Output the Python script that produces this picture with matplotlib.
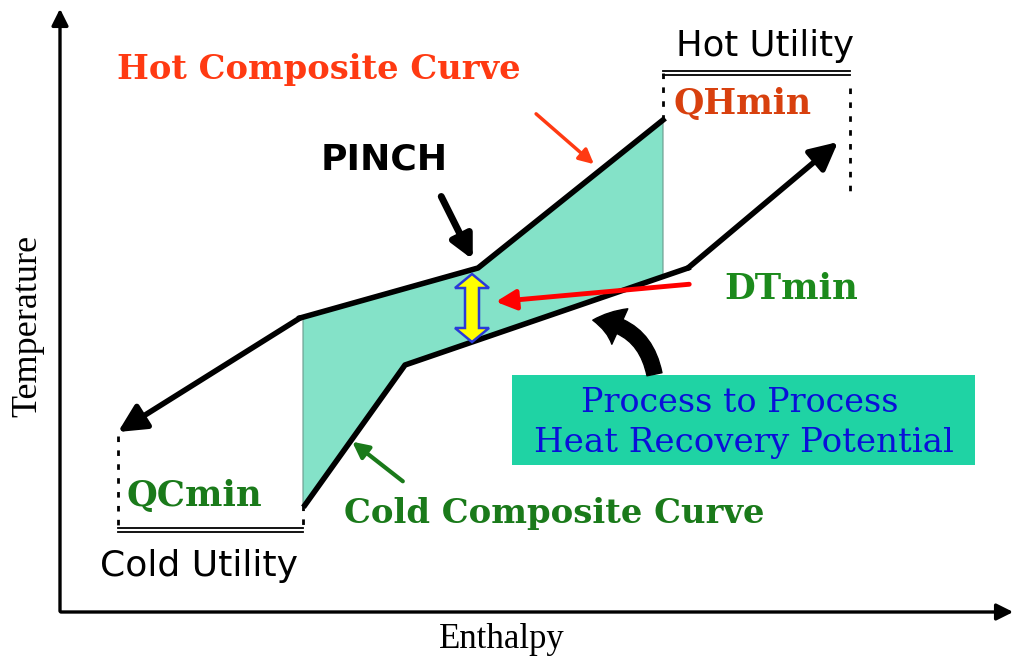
import matplotlib.pyplot as plt
from matplotlib.patches import Polygon, FancyArrowPatch

# coordinates are in picture units: enthalpy to the right, temperature down-counted from top
# hot composite curve (from top right, going down to the left)
hot_H = [663, 478, 300, 118]
hot_T = [120, 268, 318, 432]

# cold composite curve (from bottom left, going up to the right)
cold_H = [305, 405, 688, 838]
cold_T = [505, 365, 268, 142]

# utilities
cold_util_H = [118, 303]
cold_util_T = 530
hot_util_H = [663, 850]
hot_util_T = 73

# colours
FILL = '#84e2c8'
BOX = '#1fd3a4'
HOT_RED = '#ff3a12'
QH_RED = '#d8400e'
GREEN = '#1a7a1a'
DT_GREEN = '#1c8a1c'
BLUE = '#0a10d8'

SERIF = 'Liberation Serif'
BSERIF = 'DejaVu Serif'
SANS = 'DejaVu Sans'

fig = plt.figure(figsize=(10.18, 6.59), dpi=100)
ax = fig.add_axes([0, 0, 1, 1])
ax.set_xlim(0, 1018)
ax.set_ylim(659, 0)
ax.axis('off')

# axes with arrows
ax.annotate('', xy=(1016, 612), xytext=(58, 612),
            arrowprops=dict(arrowstyle='-|>', lw=2.4, color='black', mutation_scale=25))
ax.annotate('', xy=(60, 6), xytext=(60, 614),
            arrowprops=dict(arrowstyle='-|>', lw=2.4, color='black', mutation_scale=25))
ax.text(28, 326, 'Temperature', rotation=90, ha='center', va='center',
        family=SERIF, fontsize=26)
ax.text(502, 640, 'Enthalpy', ha='center', va='center', family=SERIF, fontsize=25)


def interp(xs, ys, x):
    # linear interpolation along a polyline, clamped at the ends
    pts = sorted(zip(xs, ys))
    if x <= pts[0][0]:
        return pts[0][1]
    for (x0, y0), (x1, y1) in zip(pts[:-1], pts[1:]):
        if x0 <= x <= x1:
            return y0 + (y1 - y0) * (x - x0) / (x1 - x0)
    return pts[-1][1]


# shaded heat recovery region between curves
x_lo, x_hi = 303, 663
xs = sorted(set([x_lo, x_hi] + [h for h in hot_H + cold_H if x_lo < h < x_hi]))
top = [(x, interp(hot_H, hot_T, x)) for x in xs]
bot = [(x, interp(cold_H, cold_T, x)) for x in reversed(xs)]
ax.add_patch(Polygon(top + bot, closed=True, fc=FILL, ec='#6a9a8c', lw=0.8, zorder=1))

# composite curves
ax.plot(hot_H[:-1], hot_T[:-1], color='black', lw=4, solid_joinstyle='round', zorder=3)
ax.annotate('', xy=(hot_H[-1], hot_T[-1]), xytext=(hot_H[-2], hot_T[-2]),
            arrowprops=dict(arrowstyle='-|>', lw=4, color='black', mutation_scale=42,
                            shrinkA=0, shrinkB=0), zorder=3)
ax.plot(cold_H[:-1], cold_T[:-1], color='black', lw=4, solid_joinstyle='round', zorder=3)
ax.annotate('', xy=(cold_H[-1], cold_T[-1]), xytext=(cold_H[-2], cold_T[-2]),
            arrowprops=dict(arrowstyle='-|>', lw=4, color='black', mutation_scale=42,
                            shrinkA=0, shrinkB=0), zorder=3)

# cold utility bracket
ax.plot(cold_util_H, [cold_util_T - 2] * 2, color='black', lw=1.3)
ax.plot(cold_util_H, [cold_util_T + 2] * 2, color='black', lw=1.3)
ax.plot([cold_util_H[0]] * 2, [hot_T[-1] + 4, cold_util_T], color='black', lw=2, ls=(0, (2, 3)))
ax.plot([cold_util_H[1]] * 2, [cold_T[0], cold_util_T], color='black', lw=2, ls=(0, (2, 3)))
ax.text(127, 496, 'QCmin', family=BSERIF, weight='bold', color=GREEN, fontsize=25.5, va='center')
ax.text(100, 566, 'Cold Utility', family=SANS, fontsize=26, va='center')

# hot utility bracket
ax.plot(hot_util_H, [hot_util_T - 2] * 2, color='black', lw=1.3)
ax.plot(hot_util_H, [hot_util_T + 2] * 2, color='black', lw=1.3)
ax.plot([hot_util_H[0]] * 2, [hot_util_T, hot_T[0]], color='black', lw=2, ls=(0, (2, 3)))
ax.plot([hot_util_H[1]] * 2, [hot_util_T + 15, 192], color='black', lw=2, ls=(0, (2, 3)))
ax.text(674, 104, 'QHmin', family=BSERIF, weight='bold', color=QH_RED, fontsize=25, va='center')
ax.text(676, 46, 'Hot Utility', family=SANS, fontsize=25.5, va='center')

# labels with pointer arrows
ax.text(117, 69, 'Hot Composite Curve', family=BSERIF, weight='bold', color=HOT_RED,
        fontsize=24.3, va='center')
ax.annotate('', xy=(596, 166), xytext=(534, 112),
            arrowprops=dict(arrowstyle='-|>', lw=2.5, color=HOT_RED, mutation_scale=22))

ax.text(321, 160, 'PINCH', family=SANS, weight='bold', fontsize=26, va='center')
ax.annotate('', xy=(474, 262), xytext=(440, 194),
            arrowprops=dict(arrowstyle='-|>', lw=5, color='black', mutation_scale=34))

ax.text(344, 514, 'Cold Composite Curve', family=BSERIF, weight='bold', color=GREEN,
        fontsize=24.4, va='center')
ax.annotate('', xy=(350, 440), xytext=(405, 483),
            arrowprops=dict(arrowstyle='-|>', lw=3, color=GREEN, mutation_scale=24))

ax.text(724, 289, 'DTmin', family=BSERIF, weight='bold', color=DT_GREEN, fontsize=25.5, va='center')
ax.annotate('', xy=(493, 302), xytext=(692, 284),
            arrowprops=dict(arrowstyle='-|>', lw=3.5, color='red', mutation_scale=30), zorder=4)

# DTmin double arrow
cx, y_top, y_bot = 472, 274, 342
w, hw, hl = 7, 17, 14
dbl = [(cx, y_top), (cx + hw, y_top + hl), (cx + w, y_top + hl), (cx + w, y_bot - hl),
       (cx + hw, y_bot - hl), (cx, y_bot), (cx - hw, y_bot - hl), (cx - w, y_bot - hl),
       (cx - w, y_top + hl), (cx - hw, y_top + hl)]
ax.add_patch(Polygon(dbl, closed=True, fc='yellow', ec='#2a3ad8', lw=1.8, zorder=5))

# heat recovery box
ax.add_patch(plt.Rectangle((512, 375), 463, 90, fc=BOX, ec='none', zorder=2))
ax.text(740, 403, 'Process to Process', family=BSERIF, color=BLUE, fontsize=24,
        ha='center', va='center', zorder=3)
ax.text(744, 443, 'Heat Recovery Potential', family=BSERIF, color=BLUE, fontsize=24.5,
        ha='center', va='center', zorder=3)
ax.add_patch(FancyArrowPatch((655, 377), (590, 320), connectionstyle='arc3,rad=0.4',
                             arrowstyle='simple,head_width=1.4,head_length=1,tail_width=0.55',
                             mutation_scale=20, fc='black', ec='black', zorder=4))

fig.savefig('out.png', dpi=100)
